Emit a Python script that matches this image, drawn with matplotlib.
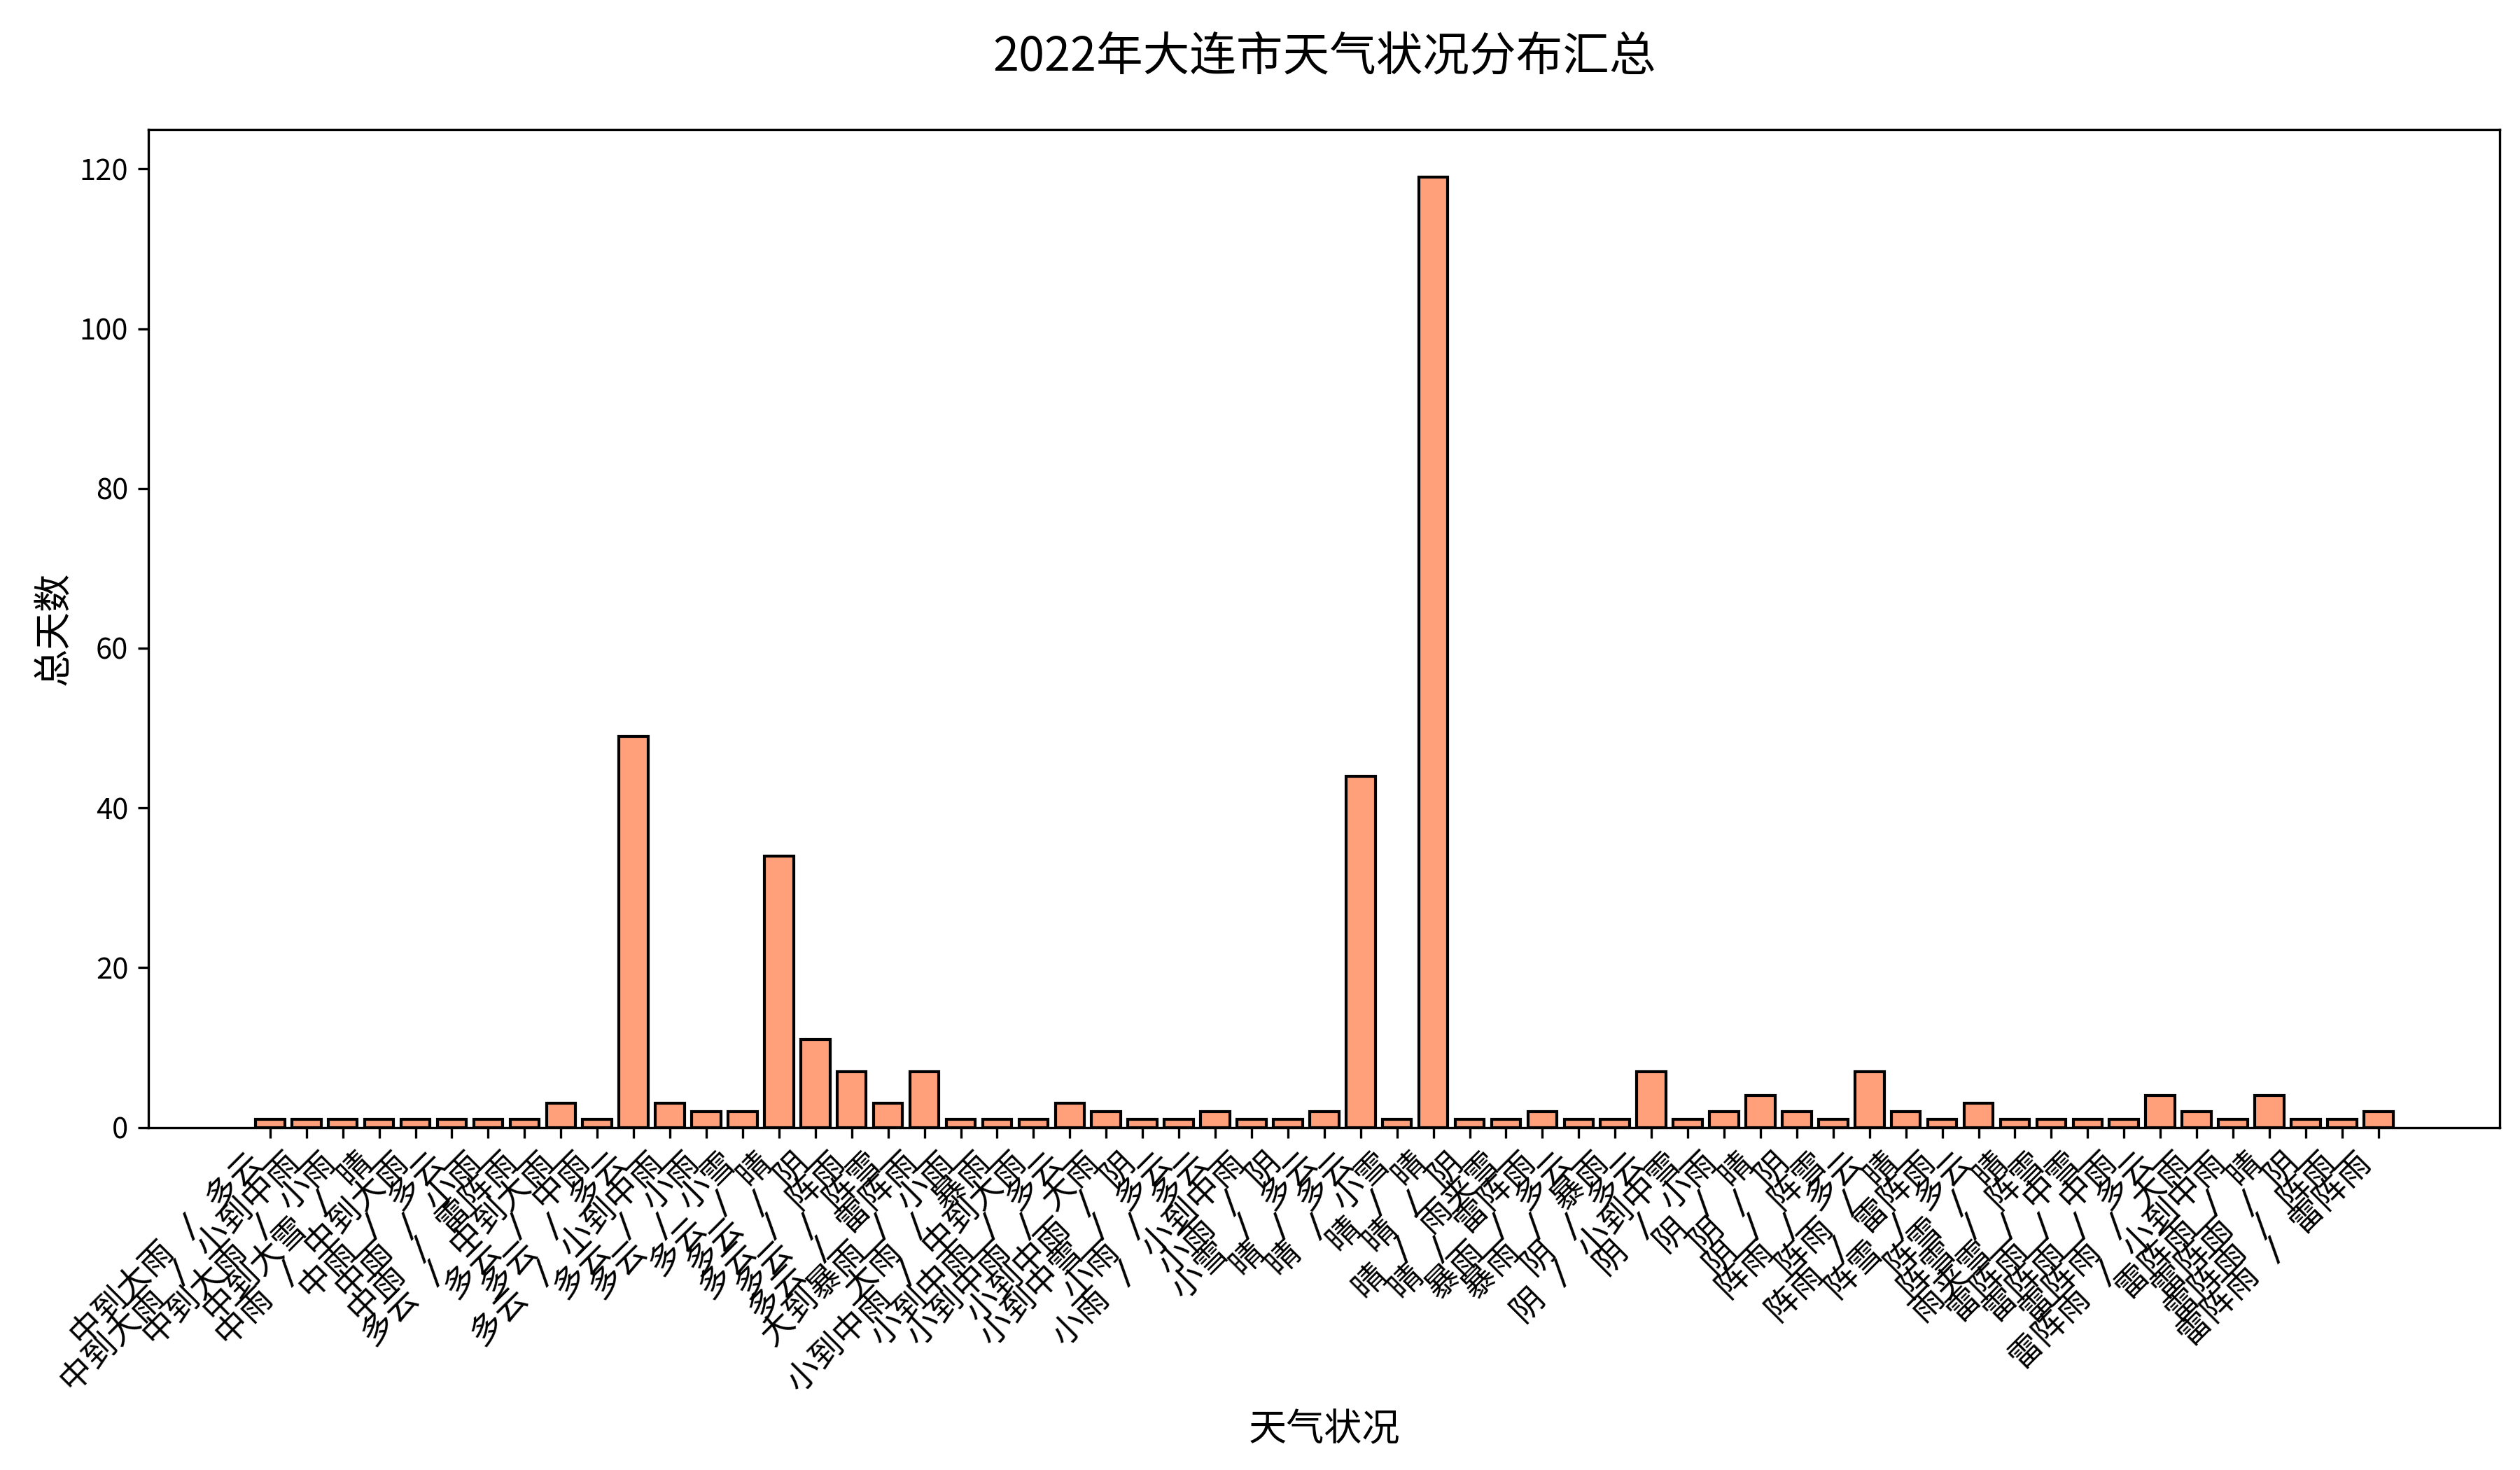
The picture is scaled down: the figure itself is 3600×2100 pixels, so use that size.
import matplotlib
matplotlib.use("Agg")
import matplotlib.pyplot as plt

plt.rcParams['font.family'] = ['Noto Sans CJK SC', 'DejaVu Sans']
plt.rcParams['axes.unicode_minus'] = False

day_weather = [
    "中到大雨", "中到大雨", "中到大雨", "中到大雪", "中雨", "中雨", "中雨", "中雨",
    "多云", "多云", "多云", "多云", "多云", "多云", "多云", "多云", "多云", "多云", "多云",
    "大到暴雨", "大雨",
    "小到中雨", "小到中雨", "小到中雨", "小到中雨", "小到中雪",
    "小雨", "小雨", "小雨", "小雪",
    "晴", "晴", "晴", "晴", "晴", "晴",
    "暴雨", "暴雨",
    "阴", "阴", "阴", "阴", "阴", "阴",
    "阵雨", "阵雨", "阵雨", "阵雪", "阵雪", "阵雪",
    "雨夹雪",
    "雷阵雨", "雷阵雨", "雷阵雨", "雷阵雨", "雷阵雨", "雷阵雨", "雷阵雨", "雷阵雨",
]
night_weather = [
    "多云", "小到中雨", "小雨", "晴", "中到大雨", "多云", "小雨", "雷阵雨",
    "中到大雨", "中雨", "多云", "小到中雨", "小雨", "小雪", "晴", "阴", "阵雨", "阵雪", "雷阵雨",
    "小雨", "暴雨",
    "中到大雨", "多云", "大雨", "阴", "多云",
    "多云", "小到中雨", "阴", "多云",
    "多云", "小雪", "晴", "阴", "雨夹雪", "雷阵雨",
    "多云", "暴雨",
    "多云", "小到中雪", "小雨", "晴", "阴", "阵雪",
    "多云", "晴", "雷阵雨", "多云", "晴", "阵雪",
    "中雪",
    "中雨", "多云", "大雨", "小到中雨", "晴", "阴", "阵雨", "雷阵雨",
]
total_days = [
    1, 1, 1, 1, 1, 1, 1, 1,
    3, 1, 49, 3, 2, 2, 34, 11, 7, 3, 7,
    1, 1,
    1, 3, 2, 1, 1,
    2, 1, 1, 2,
    44, 1, 119, 1, 1, 2,
    1, 1,
    7, 1, 2, 4, 2, 1,
    7, 2, 1, 3, 1, 1,
    1,
    1, 4, 2, 1, 4, 1, 1, 2,
]

labels = [f"{d} / {n}" for d, n in zip(day_weather, night_weather)]

fig, ax = plt.subplots(figsize=(12, 7), dpi=300)
fig.subplots_adjust(left=0.059, right=0.992, top=0.912, bottom=0.233)
x = range(len(labels))
ax.bar(x, total_days, color='#FFA07A', edgecolor='black', linewidth=1.0, width=0.8)
ax.set_xticks(list(x))
ax.set_xticklabels(labels, rotation=45, ha='right', fontsize=11.3,
                   family=['DejaVu Sans Mono', 'Noto Sans CJK SC'])
ax.tick_params(axis='y', labelsize=10)
ax.set_title("2022年大连市天气状况分布汇总", fontsize=16, pad=20)
ax.set_xlabel("天气状况", fontsize=13)
ax.set_ylabel("总天数", fontsize=13, labelpad=2)
fig.savefig("out.png", dpi=300)
